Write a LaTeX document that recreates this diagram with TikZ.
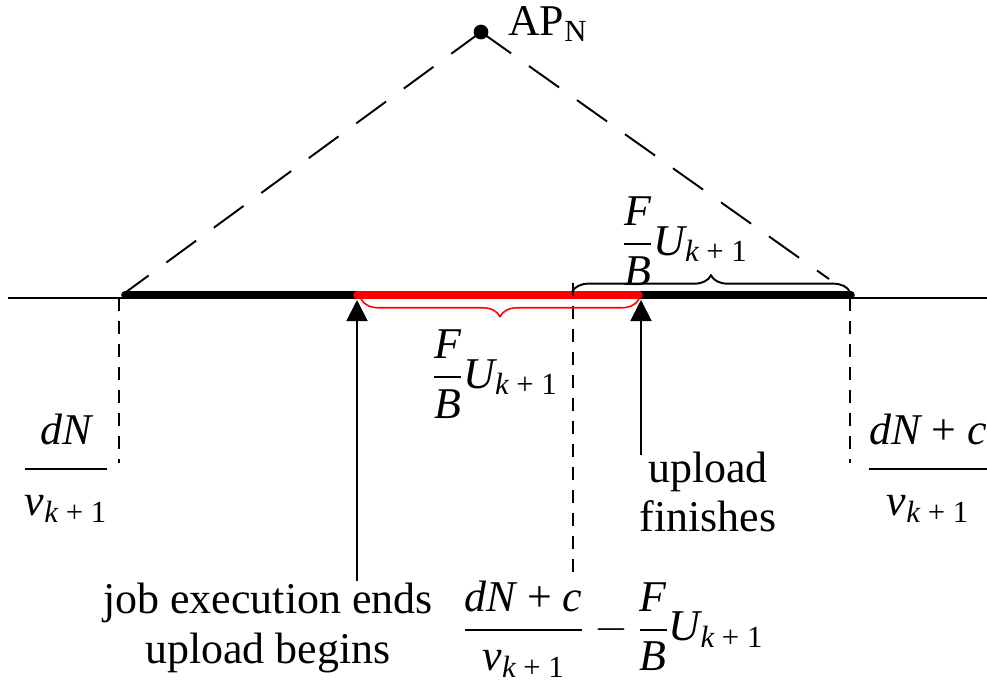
\documentclass[tikz,border=0pt]{standalone}
\usepackage{amsmath}
\usepackage{fontspec}
\setmainfont{Liberation Serif}
\usepackage{tikz}
\usetikzlibrary{positioning, arrows.meta, decorations.pathreplacing}

\newcommand{\kone}{\text{\itshape k \upshape+ 1}}
\newcommand{\Uk}{\text{\itshape U}_{\kone}}
\newcommand{\vk}{\text{\itshape v}_{\kone}}
\newcommand{\FB}{\dfrac{\text{\itshape F}}{\text{\itshape B}}}
\newcommand{\wide}[2]{\dfrac{\raisebox{3.5pt}{#1}}{\raisebox{-3pt}{#2}}}

\begin{document}
\begin{tikzpicture}[
    x=0.02cm, y=-0.02cm,
    every node/.style={font=\fontsize{25}{28}\selectfont, inner sep=1pt},
    roadline/.style={line width=1pt},
    stay/.style={line width=4.3pt, line cap=round},
    uploading/.style={stay, red},
    radio/.style={line width=1.1pt, dash pattern=on 21pt off 12.5pt},
    guide/.style={line width=1.1pt, dash pattern=on 7.4pt off 5.7pt},
    event/.style={-{Triangle[width=12pt,length=12pt]}, line width=1.1pt},
    bracelen/.style={decorate, decoration={brace, amplitude=#1}},
    bracelen/.default=9.5pt
]
\useasboundingbox (0,0) rectangle (987,683);

% Nodes
\coordinate (ap) at (481,32);
\coordinate (road0) at (8,298);
\coordinate (road1) at (987,298);
\coordinate (cov0) at (125,295);
\coordinate (cov1) at (851,295);
\coordinate (up0) at (357,295);
\coordinate (up1) at (639,295);
\coordinate (jb) at (357,300);
\coordinate (uf) at (641,300);
\coordinate (rend) at (829,279);

\node[anchor=west] (apn) at (506,24) {AP$_{\text{N}}$};
\node (fbtop) at (685,241) {$\FB\Uk$};
\node (fbred) at (495,374) {$\FB\Uk$};
\node (leftt) at (66,468) {$\wide{\itshape dN}{$\vk$}$};
\node (rightt) at (928,468) {$\wide{\itshape dN \upshape+ \itshape c}{$\vk$}$};
\node (gap) at (613,629) {$\dfrac{\text{\itshape dN \upshape+ \itshape c}}{\vk}-\FB\Uk$};
\node[align=center] (fin) at (708,492) {upload\\finishes};
\node[align=center] (job) at (268,628) {job execution ends\\upload begins};

% Edges
\draw[roadline] (road0) -- (road1);
\draw[stay] (cov0) -- (cov1);
\draw[uploading] (up0) -- (up1);
\fill (ap) circle [radius=4.2pt];
\draw[radio] (ap) -- (122,295);
\draw[radio] (ap) -- (rend);

\draw[guide] (119,298) -- (119,463);
\draw[guide] (573,283) -- (573,580);
\draw[guide] (850,298) -- (850,463);

\draw[bracelen, line width=1.1pt] (572,292) -- (850,292);
\draw[bracelen=10pt, red, line width=0.9pt] (639,299) -- (361,299);

\draw[event] (jb |- job.north) -- (jb);
\draw[event] (641,455) -- (uf);

\end{tikzpicture}
\end{document}
